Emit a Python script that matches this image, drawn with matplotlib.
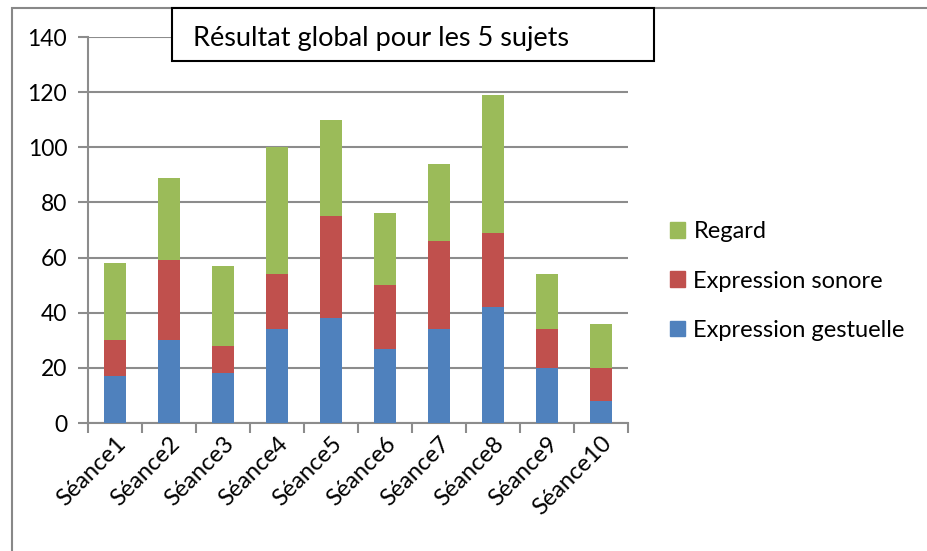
import numpy as np
import matplotlib.pyplot as plt
from matplotlib.patches import Rectangle, Patch

plt.rcParams['font.family'] = ['Lato', 'DejaVu Sans']

seances = ['Séance1', 'Séance2', 'Séance3', 'Séance4', 'Séance5',
           'Séance6', 'Séance7', 'Séance8', 'Séance9', 'Séance10']
gestuelle = [17, 30, 18, 34, 38, 27, 34, 42, 20, 8]
sonore = [13, 29, 10, 20, 37, 23, 32, 27, 14, 12]
regard = [28, 30, 29, 46, 35, 26, 28, 50, 20, 16]

c_blue = '#4F81BD'
c_red = '#C0504D'
c_green = '#9BBB59'
grid_c = '#8C8C8C'

W, H = 927, 551
fig = plt.figure(figsize=(W / 100, H / 100), dpi=100)
ax = fig.add_axes([88 / W, 1 - 423 / H, 540 / W, 386 / H])

x = np.arange(len(seances))
w = 0.41
b1 = np.array(gestuelle)
b2 = b1 + np.array(sonore)
ax.bar(x, gestuelle, w, color=c_blue, zorder=3)
ax.bar(x, sonore, w, bottom=b1, color=c_red, zorder=3)
ax.bar(x, regard, w, bottom=b2, color=c_green, zorder=3)

ax.set_xlim(-0.5, len(seances) - 0.5)
ax.set_ylim(0, 140)
ax.set_yticks(range(0, 141, 20))
ax.yaxis.grid(True, color=grid_c, linewidth=1.5, zorder=0)
ax.set_axisbelow(True)

ax.set_xticks(x)
ax.set_xticklabels(seances, rotation=45, ha='right', rotation_mode='anchor', fontsize=17)
ax.set_xticks(np.arange(-0.5, len(seances), 1), minor=True)
ax.tick_params(axis='x', which='major', length=0, pad=7)
ax.tick_params(axis='x', which='minor', length=7, width=1.5, color=grid_c)
ax.tick_params(axis='y', length=7, width=1.5, color=grid_c, labelsize=16.5, pad=8)

for s in ['top', 'right']:
    ax.spines[s].set_visible(False)
for s in ['left', 'bottom']:
    ax.spines[s].set_color(grid_c)
    ax.spines[s].set_linewidth(1.5)

handles = [Patch(color=c_green, label='Regard'),
           Patch(color=c_red, label='Expression sonore'),
           Patch(color=c_blue, label='Expression gestuelle')]
fig.legend(handles=handles, loc='center left', bbox_to_anchor=(670 / W, 1 - 281 / H),
           frameon=False, fontsize=17, handlelength=0.64, handleheight=0.64,
           labelspacing=1.2, handletextpad=0.35, borderpad=0, borderaxespad=0)

# boite du titre
fig.add_artist(Rectangle((172 / W, 1 - 61 / H), 482 / W, 53 / H, transform=fig.transFigure,
                         facecolor='white', edgecolor='black', linewidth=1.5, zorder=5))
fig.text(193 / W, 1 - 46 / H, 'Résultat global pour les 5 sujets', ha='left', va='baseline',
         fontsize=19.5, zorder=6)

fig.add_artist(Rectangle((12 / W, -0.01), 1.0, 1 - 8 / H + 0.01, transform=fig.transFigure,
                         fill=False, edgecolor='#888888', linewidth=1.5))

fig.savefig('out.png', dpi=100)
